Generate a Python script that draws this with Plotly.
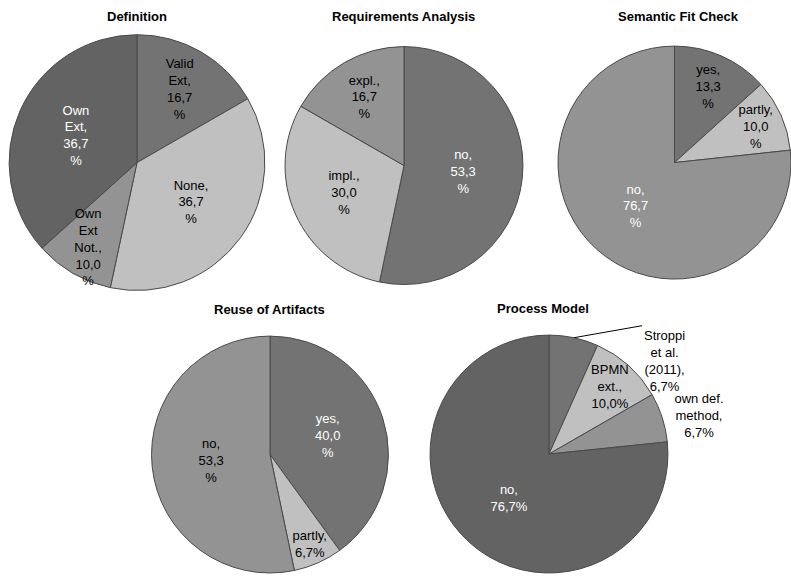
import math
import plotly.graph_objects as go

W, H = 791, 578

# ---- data ----
def_labels = ["Valid Ext", "None", "Own Ext Not.", "Own Ext"]
def_values = [16.7, 36.7, 10.0, 36.7]
def_text = ["Valid<br>Ext,<br>16,7<br>%", "None,<br>36,7<br>%", "Own<br>Ext<br>Not.,<br>10,0<br>%", "Own<br>Ext,<br>36,7<br>%"]

req_labels = ["no", "impl.", "expl."]
req_values = [53.3, 30.0, 16.7]
req_text = ["no,<br>53,3<br>%", "impl.,<br>30,0<br>%", "expl.,<br>16,7<br>%"]

sem_labels = ["yes", "partly", "no"]
sem_values = [13.3, 10.0, 76.7]
sem_text = ["yes,<br>13,3<br>%", "partly,<br>10,0<br>%", "no,<br>76,7<br>%"]

reu_labels = ["yes", "partly", "no"]
reu_values = [40.0, 6.7, 53.3]
reu_text = ["yes,<br>40,0<br>%", "partly,<br>6,7%", "no,<br>53,3<br>%"]

pm_labels = ["Stroppi et al. (2011)", "BPMN ext.", "own def. method", "no"]
pm_values = [6.7, 10.0, 6.7, 76.7]
pm_text = ["Stroppi<br>et al.<br>(2011),<br>6,7%", "BPMN<br>ext.,<br>10,0%", "own def.<br>method,<br>6,7%", "no,<br>76,7%"]

titles = ["Definition", "Requirements Analysis", "Semantic Fit Check", "Reuse of Artifacts", "Process Model"]

# ---- style ----
D1, D2, MID, LIGHT = "#636363", "#737373", "#939393", "#c0c0c0"
FONT = "Arial, Liberation Sans, sans-serif"


def px_domain(cx, cy, r):
    x0 = max(0, (cx - r) / W); x1 = min(1, (cx + r) / W)
    y0 = max(0, (H - cy - r) / H); y1 = min(1, (H - cy + r) / H)
    return dict(x=[x0, x1], y=[y0, y1])


PM_GEOM = (549, 458, 120)
specs = [
    (def_labels, def_values, def_text, [D2, LIGHT, MID, D1], ["black", "black", "black", "white"],
     ["inside"] * 4, px_domain(137, 164, 129)),
    (req_labels, req_values, req_text, [D2, LIGHT, MID], ["white", "black", "black"],
     ["inside"] * 3, px_domain(404, 167, 120)),
    (sem_labels, sem_values, sem_text, [D2, LIGHT, MID], ["black", "black", "white"],
     ["inside"] * 3, px_domain(678, 164, 120)),
    (reu_labels, reu_values, reu_text, [D2, LIGHT, MID], ["white", "black", "black"],
     ["inside"] * 3, px_domain(270, 459, 120)),
    (pm_labels, pm_values, pm_text, [D2, LIGHT, MID, D1], ["black", "black", "black", "white"],
     ["none", "inside", "outside", "inside"], px_domain(*PM_GEOM)),
]

fig = go.Figure()
# slices
for labels, values, text, colors, tcolors, tpos, dom in specs:
    fig.add_trace(go.Pie(
        labels=labels, values=values, textinfo="none",
        sort=False, direction="clockwise", rotation=0,
        marker=dict(colors=colors, line=dict(color="#4a4a4a", width=1)),
        domain=dom, showlegend=False, hoverinfo="label+value",
    ))
# text layer on top of all slices
for labels, values, text, colors, tcolors, tpos, dom in specs:
    fig.add_trace(go.Pie(
        labels=labels, values=values, text=text, textinfo="text",
        sort=False, direction="clockwise", rotation=0,
        marker=dict(colors=["rgba(0,0,0,0)"] * len(values), line=dict(width=0)),
        textfont=dict(family=FONT, size=13, color=tcolors),
        textposition=tpos, insidetextorientation="horizontal",
        domain=dom, showlegend=False, hoverinfo="skip",
    ))

# Stroppi label with leader line, anchored at the mid-angle of its slice
cx, cy, r = PM_GEOM
mid = 360 * (pm_values[0] / 2) / sum(pm_values)
px = cx + r * math.sin(math.radians(mid))
py = cy - r * math.cos(math.radians(mid))
fig.add_annotation(text=pm_text[0], x=px / W, y=1 - py / H, xref="paper", yref="paper",
                   showarrow=True, arrowhead=0, arrowwidth=1, arrowcolor="black",
                   ax=68, ay=-12, xanchor="left", yanchor="top", align="center",
                   font=dict(family=FONT, size=13, color="black"))

title_pos = [(137, 17), (403, 17), (678, 17), (269, 312), (543, 311)]
for t, (x, y) in zip(titles, title_pos):
    fig.add_annotation(text="<b>%s</b>" % t, x=x / W, y=1 - y / H, xref="paper", yref="paper",
                       showarrow=False, font=dict(family=FONT, size=13, color="black"),
                       xanchor="center", yanchor="middle")

fig.update_layout(width=W, height=H, margin=dict(l=0, r=0, t=0, b=0),
                  paper_bgcolor="white", plot_bgcolor="white",
                  uniformtext=dict(minsize=13, mode="show"))
fig.write_html("out.html", config={"displayModeBar": False},
               post_script="document.body.style.margin='0';document.body.style.overflow='hidden';")
